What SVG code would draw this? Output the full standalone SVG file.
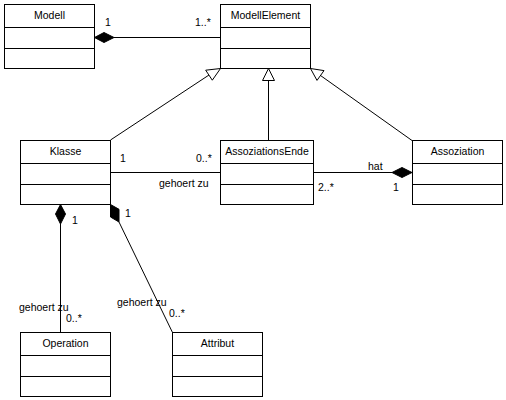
<svg xmlns="http://www.w3.org/2000/svg" width="506" height="400" viewBox="0 0 506 400">
<style>
.box{fill:#fff;stroke:#000;stroke-width:1}
.div{stroke:#000;stroke-width:1}
.t{font-family:"Liberation Sans",Arial,sans-serif;font-size:10.5px;fill:#000}
.c{text-anchor:middle}
.ln{stroke:#000;stroke-width:1;fill:none}
.dia{fill:#000;stroke:#000;stroke-width:1}
.tri{fill:#fff;stroke:#000;stroke-width:1}
</style>
<rect width="506" height="400" fill="#fff"/>
<g id="connectors">
  <!-- Modell - ModellElement -->
  <line class="ln" x1="114" y1="37.5" x2="220" y2="37.5"/>
  <polygon class="dia" points="94.5,37.5 104,32.5 114,37.5 104,42.5"/>
  <!-- generalizations -->
  <line class="ln" x1="110.5" y1="140" x2="209" y2="75"/>
  <polygon class="tri" points="220.5,68.5 212.3,80.2 205.7,70.2"/>
  <line class="ln" x1="268.5" y1="140" x2="268.5" y2="80.5"/>
  <polygon class="tri" points="268.5,68.5 262.5,80.5 274.5,80.5"/>
  <line class="ln" x1="412" y1="140.5" x2="320.5" y2="75.5"/>
  <polygon class="tri" points="310.5,68.5 324,70.6 317,80.4"/>
  <!-- Klasse - AssoziationsEnde -->
  <line class="ln" x1="110.5" y1="172.5" x2="220.5" y2="172.5"/>
  <!-- AssoziationsEnde - Assoziation -->
  <line class="ln" x1="313.5" y1="172.5" x2="392" y2="172.5"/>
  <polygon class="dia" points="412,172.5 402,167.5 392,172.5 402,177.5"/>
  <!-- Klasse - Operation -->
  <line class="ln" x1="60.5" y1="224" x2="60.5" y2="332"/>
  <polygon class="dia" points="60.5,204.5 65.5,214 60.5,224 55.5,214"/>
  <!-- Klasse - Attribut -->
  <line class="ln" x1="119" y1="222" x2="172.5" y2="332.5"/>
  <polygon class="dia" points="110.5,204.5 119,209.3 119,222 110.5,217"/>
  <!-- labels -->
  <text class="t" x="105" y="26">1</text>
  <text class="t" x="195" y="26">1..*</text>
  <text class="t" x="120" y="162">1</text>
  <text class="t" x="196" y="162">0..*</text>
  <text class="t" x="159" y="187">gehoert zu</text>
  <text class="t" x="368" y="170">hat</text>
  <text class="t" x="318" y="191">2..*</text>
  <text class="t" x="393" y="191">1</text>
  <text class="t" x="72" y="224">1</text>
  <text class="t" x="19" y="311">gehoert zu</text>
  <text class="t" x="66" y="322">0..*</text>
  <text class="t" x="125" y="217">1</text>
  <text class="t" x="117" y="306">gehoert zu</text>
  <text class="t" x="169" y="317">0..*</text>
</g>
<g id="Modell">
  <rect class="box" x="4.5" y="4.5" width="90" height="64"/>
  <line class="div" x1="4.5" y1="27.5" x2="94.5" y2="27.5"/>
  <line class="div" x1="4.5" y1="48.5" x2="94.5" y2="48.5"/>
  <text class="t c" x="49.5" y="19">Modell</text>
</g>
<g id="ModellElement">
  <rect class="box" x="220.5" y="4.5" width="90" height="64"/>
  <line class="div" x1="220.5" y1="27.5" x2="310.5" y2="27.5"/>
  <line class="div" x1="220.5" y1="48.5" x2="310.5" y2="48.5"/>
  <text class="t c" x="265.5" y="19">ModellElement</text>
</g>
<g id="Klasse">
  <rect class="box" x="20.5" y="140.5" width="90" height="64"/>
  <line class="div" x1="20.5" y1="163.5" x2="110.5" y2="163.5"/>
  <line class="div" x1="20.5" y1="184.5" x2="110.5" y2="184.5"/>
  <text class="t c" x="65.5" y="155">Klasse</text>
</g>
<g id="AssoziationsEnde">
  <rect class="box" x="220.5" y="140.5" width="93" height="64"/>
  <line class="div" x1="220.5" y1="163.5" x2="313.5" y2="163.5"/>
  <line class="div" x1="220.5" y1="184.5" x2="313.5" y2="184.5"/>
  <text class="t c" x="267" y="155">AssoziationsEnde</text>
</g>
<g id="Assoziation">
  <rect class="box" x="412.5" y="140.5" width="90" height="64"/>
  <line class="div" x1="412.5" y1="163.5" x2="502.5" y2="163.5"/>
  <line class="div" x1="412.5" y1="184.5" x2="502.5" y2="184.5"/>
  <text class="t c" x="457.5" y="155">Assoziation</text>
</g>
<g id="Operation">
  <rect class="box" x="20.5" y="332.5" width="90" height="64"/>
  <line class="div" x1="20.5" y1="355.5" x2="110.5" y2="355.5"/>
  <line class="div" x1="20.5" y1="376.5" x2="110.5" y2="376.5"/>
  <text class="t c" x="65.5" y="347">Operation</text>
</g>
<g id="Attribut">
  <rect class="box" x="172.5" y="332.5" width="90" height="64"/>
  <line class="div" x1="172.5" y1="355.5" x2="262.5" y2="355.5"/>
  <line class="div" x1="172.5" y1="376.5" x2="262.5" y2="376.5"/>
  <text class="t c" x="217.5" y="347">Attribut</text>
</g>
</svg>
